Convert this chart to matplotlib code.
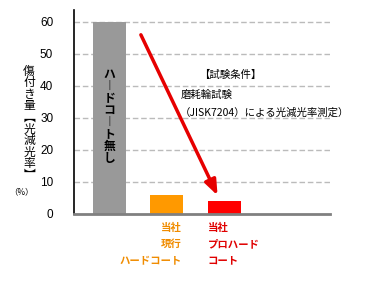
import matplotlib
matplotlib.use("Agg")
import matplotlib.pyplot as plt

plt.rcParams['font.family'] = ['Noto Sans CJK JP', 'DejaVu Sans']

categories = ["ハードコート無し", "当社現行ハードコート", "当社プロハードコート"]
values = [60, 6, 4]
colors = ["#999999", "#FF9900", "#FF0000"]
bar_inner_label = "ハ︱ドコ︱ト無し"
cat_labels = ["", "当社\n現行\nハードコート", "当社\nプロハード\nコート"]
cat_label_colors = ["black", "#F08C00", "#E00000"]
yticks = [0, 10, 20, 30, 40, 50, 60]
ylabel_chars = "傷付き量︻光減光率︼"
cond_title = "【試験条件】"
cond_lines = ["磨耗輪試験", "（JISK7204）による光減光率測定）"]
arrow_start = (0.55, 56.0)
arrow_end = (1.88, 5.8)

W, H = 373, 281
fig = plt.figure(figsize=(W / 100, H / 100), dpi=100)
ax = fig.add_axes([74 / W, 1 - 214 / H, (330 - 74) / W, (214 - 10) / H])

xpos = [0, 1, 2]
ax.bar(xpos, values, width=0.57, color=colors, zorder=2)
ax.set_xlim(-0.61, 3.83)
ax.set_ylim(0, 63.75)

ax.set_yticks(yticks)
ax.set_yticklabels([str(t) for t in yticks], fontsize=8.5, family=['Liberation Sans'])
ax.tick_params(axis='y', length=0, pad=15)
ax.set_xticks([])
for t in yticks[1:]:
    ax.axhline(t, color="#BBBBBB", lw=1, ls=(0, (4, 2)), zorder=1)

for s in ["top", "right"]:
    ax.spines[s].set_visible(False)
ax.spines["left"].set_color("black")
ax.spines["left"].set_linewidth(1.2)
ax.spines["bottom"].set_color("#808080")
ax.spines["bottom"].set_linewidth(2)

# text inside gray bar (vertical, one character per row)
for i, ch in enumerate(bar_inner_label):
    ypx = 74 + i * 12.1
    ax.text(xpos[0], (214 - ypx) / 3.2, ch, ha="center", va="center",
            fontsize=8.5, fontweight="bold", color="black")

# category labels
ax.text(xpos[1] + 0.26, -2.8, cat_labels[1], ha="right", va="top", ma="right",
        fontsize=7.5, fontweight="bold", color=cat_label_colors[1], linespacing=1.75)
ax.text(xpos[2] - 0.29, -2.8, cat_labels[2], ha="left", va="top", ma="left",
        fontsize=7.5, fontweight="bold", color=cat_label_colors[2], linespacing=1.75)

# arrow
ax.annotate("", xy=arrow_end, xytext=arrow_start,
            arrowprops=dict(arrowstyle="-|>,head_width=0.35,head_length=0.9",
                            color="#E60000", lw=2.5, shrinkA=0, shrinkB=0), zorder=3)

# test condition text
ax.text(2.1, 43.4, cond_title, ha="center", va="center", fontsize=7.5)
ax.text(1.24, 37.2, cond_lines[0], ha="left", va="center", fontsize=7.5)
ax.text(1.22, 31.6, cond_lines[1], ha="left", va="center", fontsize=7.5)

# y label (vertical stacked, one character per row)
for i, ch in enumerate(ylabel_chars):
    ypx = 71 + i * 11.6
    fig.text(29 / W, 1 - ypx / H, ch, ha="center", va="center", fontsize=8.5)
fig.text(21 / W, 1 - 192 / H, "（%）", ha="center", va="center", fontsize=6)

fig.savefig("out.png", dpi=100)
